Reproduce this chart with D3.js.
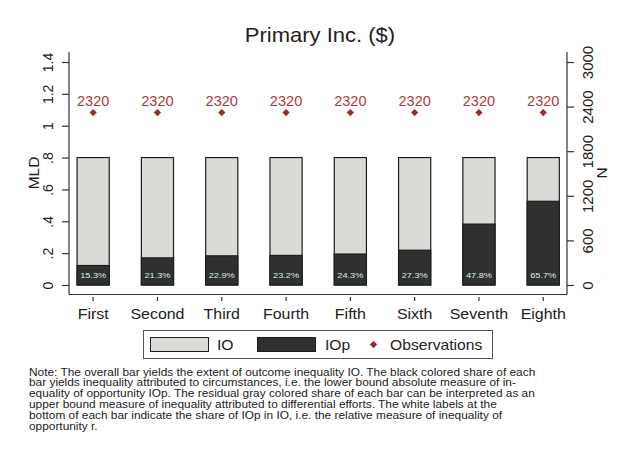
<!DOCTYPE html>
<html>
<head>
<meta charset="utf-8">
<script src="https://cdn.jsdelivr.net/npm/d3@7"></script>
<style>
  html, body { margin: 0; padding: 0; background: #fff; }
  svg { display: block; font-family: "Liberation Sans", Arial, sans-serif; }
</style>
</head>
<body>
<svg id="chart" width="625" height="450"></svg>
<script>
// Deciles of primary income
const categories = ["First", "Second", "Third", "Fourth", "Fifth", "Sixth", "Seventh", "Eighth"];
// Outcome inequality (MLD) per group
const ioValues = [0.80, 0.80, 0.80, 0.80, 0.80, 0.80, 0.80, 0.80];
// Share of IOp in IO (percent)
const shareValues = [15.3, 21.3, 22.9, 23.2, 24.3, 27.3, 47.8, 65.7];
// Number of observations per group
const obsValues = [2320, 2320, 2320, 2320, 2320, 2320, 2320, 2320];
const leftTicks = [0, 0.2, 0.4, 0.6, 0.8, 1, 1.2, 1.4];
const leftTickLabels = ["0", ".2", ".4", ".6", ".8", "1", "1.2", "1.4"];
const rightTicks = [0, 600, 1200, 1800, 2400, 3000];
const noteLines = [
  "Note: The overall bar yields the extent of outcome inequality IO. The black colored share of each",
  "bar yields inequality attributed to circumstances, i.e. the lower bound absolute measure of in-",
  "equality of opportunity IOp. The residual gray colored share of each bar can be interpreted as an",
  "upper bound measure of inequality attributed to differential efforts. The white labels at the",
  "bottom of each bar indicate the share of IOp in IO, i.e. the relative measure of inequality of",
  "opportunity r."
];

const svg = d3.select("#chart");
const textColor = "#222";
const lightFill = "#dcdad7";
const darkFill = "#2f3130";
const obsColor = "#a3282b";

const axL = 69, axR = 567, axTop = 52, axBottom = 294.5;

// Place a text element at (px, py) with a horizontal stretch
function place(sel, px, py, sx) {
  return sel.attr("x", 0).attr("y", 0)
    .attr("transform", `translate(${px},${py}) scale(${sx},1)`);
}

const x = d3.scaleBand().domain(categories).range([61, 575.4]).paddingInner(0.5).paddingOuter(0.25);
const yL = d3.scaleLinear().domain([0, 1.4]).range([285, 62]);
const yR = d3.scaleLinear().domain([0, 3000]).range([285, 62]);
const cx = d => x(d) + x.bandwidth() / 2;

// Title
place(svg.append("text"), 320, 42, 1.1).attr("text-anchor", "middle")
  .attr("font-size", 20).attr("fill", textColor).text("Primary Inc. ($)");

// Axis frame lines
const g = svg.append("g").attr("stroke", "#333").attr("stroke-width", 1.2);
g.append("line").attr("x1", axL).attr("x2", axL).attr("y1", axTop).attr("y2", axBottom);
g.append("line").attr("x1", axR).attr("x2", axR).attr("y1", axTop).attr("y2", axBottom);
g.append("line").attr("x1", axL).attr("x2", axR).attr("y1", axBottom).attr("y2", axBottom);

// Left axis
const leftAxis = d3.axisLeft(yL).tickValues(leftTicks).tickSize(7).tickPadding(4)
  .tickFormat((d, i) => leftTickLabels[i]);
const gl = svg.append("g").attr("transform", `translate(${axL},0)`).call(leftAxis);
gl.select(".domain").remove();
gl.selectAll(".tick line").attr("stroke", "#333").attr("stroke-width", 1.2);
gl.selectAll(".tick text").attr("font-size", 14).attr("fill", textColor)
  .attr("font-family", "Liberation Sans, Arial, sans-serif")
  .attr("transform", "rotate(-90)").attr("text-anchor", "middle")
  .attr("x", 0).attr("dy", 0)
  .attr("y", -16);

// Right axis
const rightAxis = d3.axisRight(yR).tickValues(rightTicks).tickSize(7).tickPadding(4)
  .tickFormat(d3.format("d"));
const gr = svg.append("g").attr("transform", `translate(${axR},0)`).call(rightAxis);
gr.select(".domain").remove();
gr.selectAll(".tick line").attr("stroke", "#333").attr("stroke-width", 1.2);
gr.selectAll(".tick text").attr("font-size", 15).attr("fill", textColor)
  .attr("font-family", "Liberation Sans, Arial, sans-serif")
  .attr("transform", "rotate(-90)").attr("text-anchor", "middle")
  .attr("x", 0).attr("dy", 0)
  .attr("y", 26);

// Axis titles
svg.append("text").attr("transform", "translate(39,173) rotate(-90)").attr("text-anchor", "middle")
  .attr("font-size", 15.5).attr("fill", textColor).text("MLD");
svg.append("text").attr("transform", "translate(607,173) rotate(-90)").attr("text-anchor", "middle")
  .attr("font-size", 15.5).attr("fill", textColor).text("N");

// Bottom axis
const bottomAxis = d3.axisBottom(x).tickSize(0).tickPadding(0);
const gb = svg.append("g").attr("transform", `translate(0,${axBottom})`).call(bottomAxis);
gb.select(".domain").remove();
gb.selectAll(".tick line").remove();
gb.selectAll(".tick").append("line").attr("y1", 2.5).attr("y2", 6.5)
  .attr("stroke", "#333").attr("stroke-width", 1.2);
gb.selectAll(".tick text").attr("font-size", 14.5).attr("fill", textColor)
  .attr("font-family", "Liberation Sans, Arial, sans-serif").attr("dy", 0)
  .attr("x", 0).attr("y", 0).attr("transform", "translate(0,24) scale(1.1,1)");

// Bars: full IO in gray, IOp share in dark
const bars = svg.append("g");
bars.selectAll("rect.io").data(categories).join("rect").attr("class", "io")
  .attr("x", d => x(d)).attr("width", x.bandwidth())
  .attr("y", (d, i) => yL(ioValues[i])).attr("height", (d, i) => yL(0) - yL(ioValues[i]))
  .attr("fill", lightFill).attr("stroke", "#1e1e1e").attr("stroke-width", 1.2);
bars.selectAll("rect.iop").data(categories).join("rect").attr("class", "iop")
  .attr("x", d => x(d)).attr("width", x.bandwidth())
  .attr("y", (d, i) => yL(ioValues[i] * shareValues[i] / 100))
  .attr("height", (d, i) => yL(0) - yL(ioValues[i] * shareValues[i] / 100))
  .attr("fill", darkFill).attr("stroke", "#1e1e1e").attr("stroke-width", 1.2);
bars.selectAll("text.share").data(categories).join("text").attr("class", "share")
  .attr("x", 0).attr("y", 0)
  .attr("transform", d => `translate(${cx(d)},${yL(0) - 7}) scale(1.15,1)`)
  .attr("text-anchor", "middle").attr("font-size", 8).attr("fill", "#dfe8ee")
  .text((d, i) => shareValues[i].toFixed(1) + "%");

// Observations markers on the right scale
const diamond = d3.symbol().type(d3.symbolDiamond2).size(34);
const obs = svg.append("g");
obs.selectAll("path").data(categories).join("path")
  .attr("transform", (d, i) => `translate(${cx(d)},${yR(obsValues[i])})`)
  .attr("d", diamond).attr("fill", obsColor);
obs.selectAll("text").data(categories).join("text")
  .attr("x", 0).attr("y", 0)
  .attr("transform", (d, i) => `translate(${cx(d)},${yR(obsValues[i]) - 7}) scale(1.04,1)`)
  .attr("text-anchor", "middle").attr("font-size", 14).attr("fill", "#b0383b")
  .text((d, i) => obsValues[i]);

// Legend
const lg = svg.append("g");
lg.append("rect").attr("x", 143.5).attr("y", 330.5).attr("width", 349).attr("height", 28)
  .attr("fill", "#fff").attr("stroke", "#555").attr("stroke-width", 1);
lg.append("rect").attr("x", 150.5).attr("y", 337.5).attr("width", 58).attr("height", 14)
  .attr("fill", lightFill).attr("stroke", "#1e1e1e").attr("stroke-width", 1);
place(lg.append("text"), 217, 350, 1.12).attr("font-size", 14).attr("fill", textColor).text("IO");
lg.append("rect").attr("x", 257.5).attr("y", 337.5).attr("width", 58).attr("height", 14)
  .attr("fill", darkFill).attr("stroke", "#1e1e1e").attr("stroke-width", 1);
place(lg.append("text"), 325, 350, 1.12).attr("font-size", 14).attr("fill", textColor).text("IOp");
lg.append("path").attr("transform", "translate(373.5,344.5)").attr("d", diamond).attr("fill", obsColor);
place(lg.append("text"), 390, 350, 1.12).attr("font-size", 14).attr("fill", textColor).text("Observations");

// Note
svg.append("g").selectAll("text").data(noteLines).join("text")
  .attr("x", 0).attr("y", 0)
  .attr("transform", (d, i) => `translate(29,${375.5 + i * 10.8}) scale(1.08,1)`)
  .attr("font-size", 11).attr("fill", textColor).text(d => d);
</script>
</body>
</html>
